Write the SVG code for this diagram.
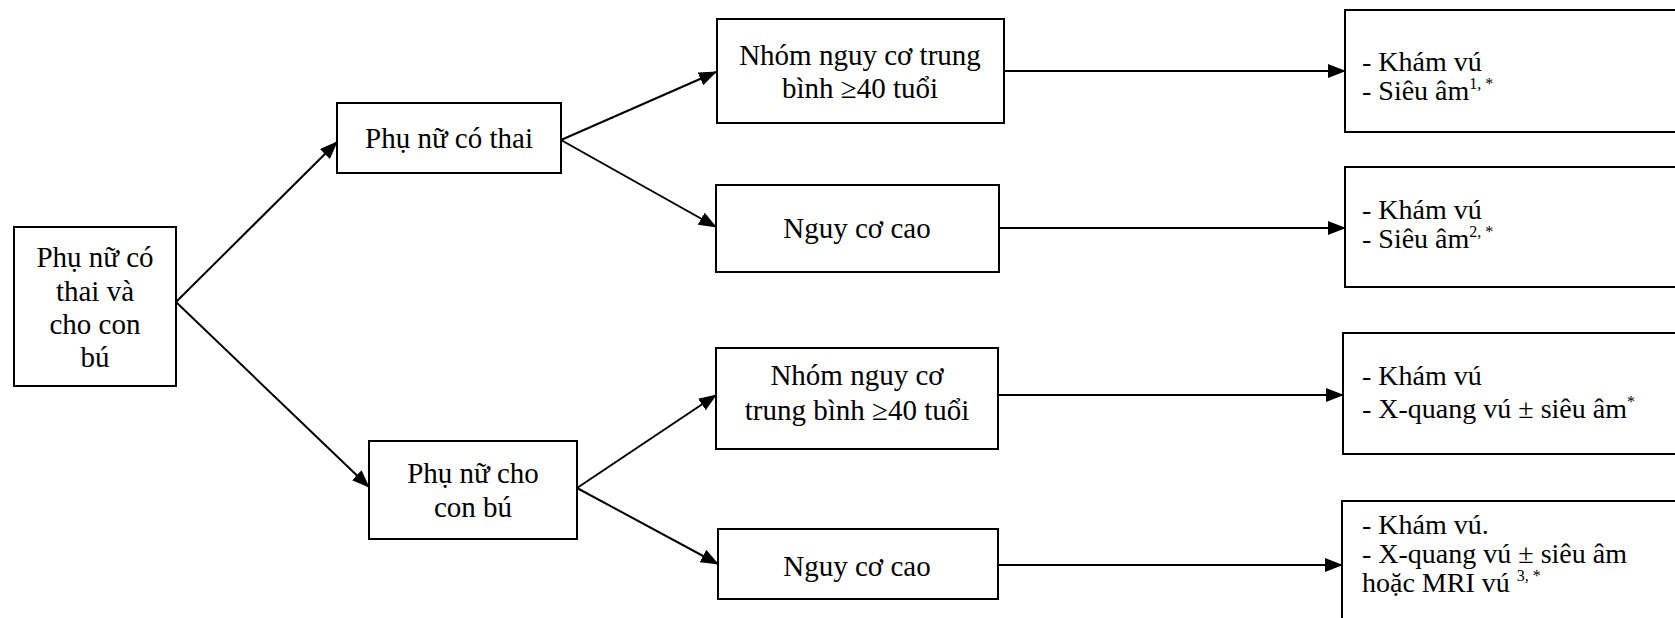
<svg xmlns="http://www.w3.org/2000/svg" width="1675" height="618" viewBox="0 0 1675 618">
  <defs>
    <marker id="arrow" markerUnits="userSpaceOnUse" markerWidth="18" markerHeight="14" refX="17" refY="7" orient="auto">
      <path d="M0,0 L18,7 L0,14 z" fill="#000"/>
    </marker>
    <style>
      .box { fill: #fff; stroke: #000; stroke-width: 2; }
      .link { fill: none; stroke: #000; stroke-width: 2; marker-end: url(#arrow); }
      .t { font-family: "Liberation Serif", "Times New Roman", serif; font-size: 29px; fill: #000; }
      .c { text-anchor: middle; }
      .r { font-size: 28px; }
      .sup { font-size: 16px; }
    </style>
  </defs>
  <rect width="1675" height="618" fill="#fff"/>

  <!-- connectors -->
  <g id="connectors">
    <line class="link" x1="176" y1="302" x2="337" y2="142"/>
    <line class="link" x1="176" y1="302" x2="369" y2="487"/>
    <line class="link" x1="561" y1="140" x2="716" y2="72"/>
    <line class="link" x1="561" y1="140" x2="716" y2="227"/>
    <line class="link" x1="577" y1="488" x2="716" y2="395"/>
    <line class="link" x1="577" y1="488" x2="718" y2="564"/>
    <line class="link" x1="1004" y1="71" x2="1345" y2="71"/>
    <line class="link" x1="999" y1="228" x2="1345" y2="228"/>
    <line class="link" x1="998" y1="395" x2="1343" y2="395"/>
    <line class="link" x1="998" y1="565" x2="1342" y2="565"/>
  </g>

  <!-- root -->
  <g id="root">
    <rect class="box" x="14" y="227" width="162" height="159"/>
    <text class="t c" x="95" y="267">Phụ nữ có</text>
    <text class="t c" x="95" y="301">thai và</text>
    <text class="t c" x="95" y="334">cho con</text>
    <text class="t c" x="95" y="367">bú</text>
  </g>

  <!-- second level -->
  <g id="pregnant">
    <rect class="box" x="337" y="103" width="224" height="70"/>
    <text class="t c" x="449" y="148">Phụ nữ có thai</text>
  </g>
  <g id="breastfeeding">
    <rect class="box" x="369" y="441" width="208" height="98"/>
    <text class="t c" x="473" y="483">Phụ nữ cho</text>
    <text class="t c" x="473" y="517">con bú</text>
  </g>

  <!-- risk groups -->
  <g id="pregnant-average">
    <rect class="box" x="717" y="19" width="287" height="104"/>
    <text class="t c" x="860" y="65">Nhóm nguy cơ trung</text>
    <text class="t c" x="860" y="98">bình ≥40 tuổi</text>
  </g>
  <g id="pregnant-high">
    <rect class="box" x="716" y="185" width="283" height="87"/>
    <text class="t c" x="857" y="238">Nguy cơ cao</text>
  </g>
  <g id="breastfeeding-average">
    <rect class="box" x="716" y="348" width="282" height="101"/>
    <text class="t c" x="857" y="385">Nhóm nguy cơ</text>
    <text class="t c" x="857" y="420">trung bình ≥40 tuổi</text>
  </g>
  <g id="breastfeeding-high">
    <rect class="box" x="718" y="529" width="280" height="70"/>
    <text class="t c" x="857" y="576">Nguy cơ cao</text>
  </g>

  <!-- recommendations -->
  <g id="rec-1">
    <rect class="box" x="1345" y="10" width="340" height="122"/>
    <text class="t r" x="1362" y="71">- Khám vú</text>
    <text class="t r" x="1362" y="100">- Siêu âm<tspan class="sup" dy="-11">1, *</tspan></text>
  </g>
  <g id="rec-2">
    <rect class="box" x="1345" y="167" width="340" height="120"/>
    <text class="t r" x="1362" y="219">- Khám vú</text>
    <text class="t r" x="1362" y="248">- Siêu âm<tspan class="sup" dy="-11">2, *</tspan></text>
  </g>
  <g id="rec-3">
    <rect class="box" x="1343" y="333" width="342" height="121"/>
    <text class="t r" x="1362" y="385">- Khám vú</text>
    <text class="t r" x="1362" y="418">- X-quang vú ± siêu âm<tspan class="sup" dy="-11">*</tspan></text>
  </g>
  <g id="rec-4">
    <rect class="box" x="1342" y="501" width="343" height="130"/>
    <text class="t r" x="1362" y="534">- Khám vú.</text>
    <text class="t r" x="1362" y="563">- X-quang vú ± siêu âm</text>
    <text class="t r" x="1362" y="592">hoặc MRI vú <tspan class="sup" dy="-11">3, *</tspan></text>
  </g>
</svg>
